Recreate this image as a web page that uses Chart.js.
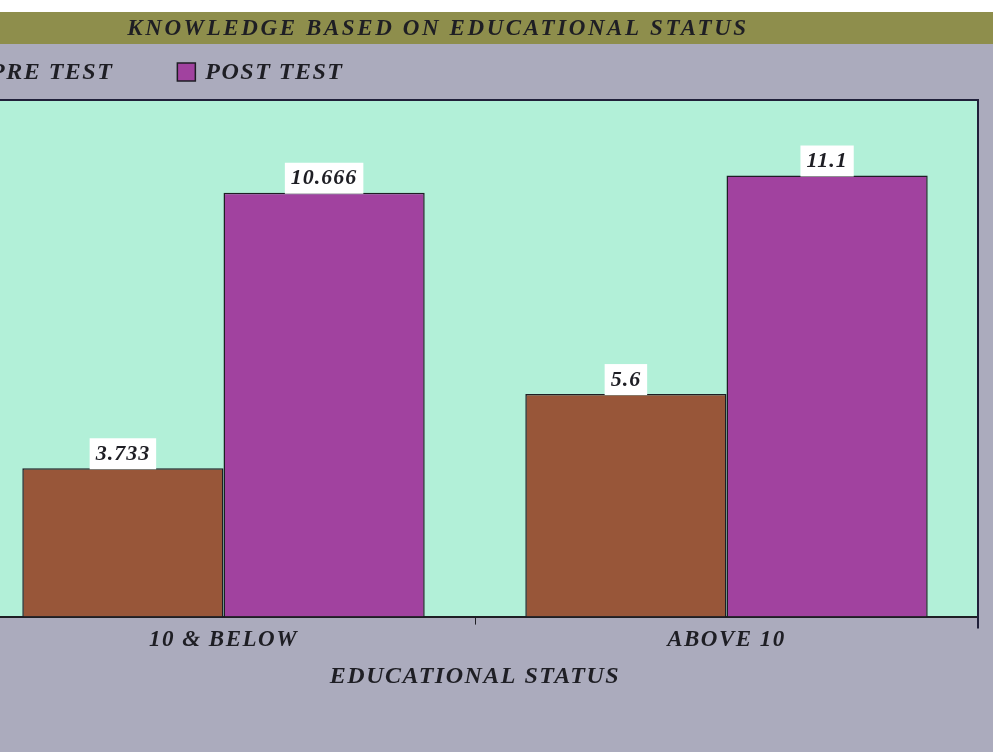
<!DOCTYPE html>
<html>
<head>
<meta charset="utf-8">
<script src="https://cdn.jsdelivr.net/npm/chart.js@4"></script>
<style>
  html, body { margin: 0; padding: 0; background: #ffffff; overflow: hidden; }
  body { width: 993px; height: 755px; position: relative; }
  #wrap { position: absolute; left: -28px; top: 0; width: 1021px; height: 752px; }
</style>
</head>
<body>
<div id="wrap"><canvas id="eduChart"></canvas></div>
<script>
// chart data
const chartTitle = 'KNOWLEDGE BASED ON EDUCATIONAL STATUS';
const axisTitle = 'EDUCATIONAL STATUS';
const categories = ['10 & BELOW', 'ABOVE 10'];
const seriesNames = ['PRE TEST', 'POST TEST'];
const preTest = [3.733, 5.6];
const postTest = [10.666, 11.1];

const serif = "'Liberation Serif', 'Times New Roman', serif";
const ink = '#1e1e24';

// page background, title band, plot area and legend
const backdrop = {
    id: 'backdrop',
    beforeDraw(chart) {
        const ctx = chart.ctx;
        const area = chart.chartArea;
        ctx.save();
        ctx.fillStyle = '#ababbd';
        ctx.fillRect(0, 0, chart.width, chart.height);
        ctx.fillStyle = '#ffffff';
        ctx.fillRect(0, 0, chart.width, 12);
        ctx.fillStyle = '#8e8e4c';
        ctx.fillRect(0, 12, chart.width, 32);

        ctx.fillStyle = ink;
        ctx.font = 'italic bold 23px ' + serif;
        ctx.textAlign = 'center';
        ctx.textBaseline = 'middle';
        ctx.letterSpacing = '2.6px';
        ctx.fillText(chartTitle, 466, 29);

        // legend
        ctx.font = 'italic bold 24px ' + serif;
        ctx.textAlign = 'left';
        ctx.letterSpacing = '1.5px';
        let x = -10;
        chart.data.datasets.forEach(ds => {
            ctx.fillStyle = ds.backgroundColor;
            ctx.fillRect(x, 63, 18, 18);
            ctx.strokeStyle = ink;
            ctx.lineWidth = 1.5;
            ctx.strokeRect(x, 63, 18, 18);
            ctx.fillStyle = ink;
            ctx.fillText(ds.label, x + 28, 73);
            x += 28 + ctx.measureText(ds.label).width + 64;
        });

        ctx.fillStyle = '#b2f0d8';
        ctx.fillRect(area.left, area.top, area.right - area.left, area.bottom - area.top);
        ctx.restore();
        // wider spacing for the axis texts drawn after this hook
        ctx.letterSpacing = '1.5px';
    },
    afterDraw(chart) {
        const ctx = chart.ctx;
        const area = chart.chartArea;
        ctx.save();
        ctx.strokeStyle = '#20203a';
        ctx.lineWidth = 2;
        ctx.beginPath();
        ctx.moveTo(area.left, area.top);
        ctx.lineTo(area.right, area.top);
        ctx.lineTo(area.right, area.bottom + 12);
        ctx.stroke();
        ctx.restore();
        ctx.letterSpacing = '0px';
    }
};

// white value boxes on top of each bar
const valueBoxes = {
    id: 'valueBoxes',
    afterDatasetsDraw(chart) {
        const ctx = chart.ctx;
        ctx.save();
        ctx.font = 'italic bold 22px ' + serif;
        ctx.letterSpacing = '1px';
        ctx.textAlign = 'center';
        ctx.textBaseline = 'middle';
        chart.data.datasets.forEach((ds, i) => {
            chart.getDatasetMeta(i).data.forEach((bar, j) => {
                const text = String(ds.data[j]);
                const w = ctx.measureText(text).width + 12;
                ctx.fillStyle = '#ffffff';
                ctx.fillRect(bar.x - w / 2, bar.y - 30, w, 31);
                ctx.fillStyle = ink;
                ctx.fillText(text, bar.x, bar.y - 14);
            });
        });
        ctx.restore();
    }
};

const ctx = document.getElementById('eduChart').getContext('2d');
new Chart(ctx, {
    type: 'bar',
    data: {
        labels: categories,
        datasets: [{
            label: seriesNames[0],
            data: preTest,
            backgroundColor: '#985639',
            borderColor: ink,
            borderWidth: 1.5,
            categoryPercentage: 0.8,
            barPercentage: 1
        }, {
            label: seriesNames[1],
            data: postTest,
            backgroundColor: '#a1429f',
            borderColor: ink,
            borderWidth: 1.5,
            categoryPercentage: 0.8,
            barPercentage: 1
        }]
    },
    options: {
        responsive: true,
        maintainAspectRatio: false,
        animation: false,
        layout: { padding: { top: 100, left: 0, right: 15, bottom: 61 } },
        plugins: {
            legend: { display: false },
            title: { display: false },
            tooltip: { enabled: false }
        },
        scales: {
            x: {
                offset: true,
                grid: { display: true, drawOnChartArea: false, drawTicks: true, tickLength: 8, color: ink },
                border: { display: true, color: ink, width: 2 },
                ticks: { color: ink, padding: 2, font: { family: serif, size: 23, style: 'italic', weight: 'bold' } },
                title: {
                    display: true,
                    text: axisTitle,
                    color: ink,
                    padding: { top: 6, bottom: 0 },
                    font: { family: serif, size: 24, style: 'italic', weight: 'bold' }
                }
            },
            y: {
                display: false,
                min: 0,
                max: 13
            }
        }
    },
    plugins: [backdrop, valueBoxes]
});
</script>
</body>
</html>
